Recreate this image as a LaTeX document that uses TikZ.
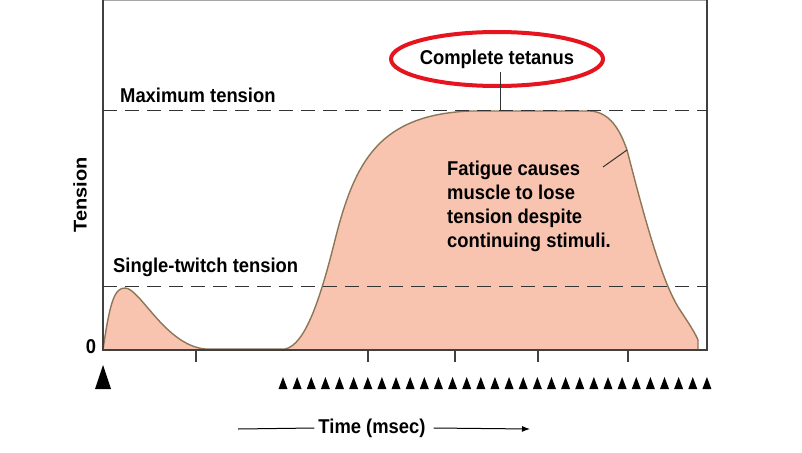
\documentclass[tikz,border=0pt]{standalone}
\usepackage{fontspec}
\setmainfont{Liberation Sans}
\usetikzlibrary{arrows.meta}
\definecolor{fillc}{RGB}{248,196,176}
\definecolor{edgec}{RGB}{140,118,88}
\definecolor{redc}{RGB}{230,20,30}
\tikzset{lbl/.style={font=\fontsize{20}{24}\selectfont\bfseries, inner sep=0pt, xscale=0.92},
 dashline/.style={dash pattern=on 14pt off 8pt, line width=1pt, black!80},
 tri/.style={fill=black, draw=none}}
\begin{document}
\begin{tikzpicture}[x=1pt,y=-1pt]
\useasboundingbox (0,0) rectangle (802,452);
\fill[white] (0,0) rectangle (802,452);
% curves
\draw[fill=fillc, draw=edgec, line width=1.4pt]
 (103,350) .. controls (110,300) and (115,288) .. (125,288)
 .. controls (140,288) and (165,345) .. (205,349) -- (285,349)
 .. controls (305,345) and (320,300) .. (335,240)
 .. controls (355,160) and (380,115) .. (470,111)
 -- (590,111) .. controls (610,112) and (620,130) .. (627,150)
 .. controls (640,200) and (660,280) .. (680,310)
 .. controls (690,325) and (695,333) .. (698,340) -- (698,350) -- cycle;
% frame
\draw[gray!70, line width=0.8pt] (103,0) -- (707,0);
\draw[black!75, line width=1.2pt] (103,0) -- (103,350) -- (707,350) -- (707,0);
\foreach \x in {196,368,455,538,628} \draw[black!75, line width=1.2pt] (\x,350) -- (\x,362);
\draw[dashline] (103,110) -- (707,110);
\draw[dashline] (103,286) -- (707,286);
% labels
\node[lbl, anchor=south west] (maxt) at (120,103) {Maximum tension};
\node[lbl, anchor=south west] (single) at (113,277) {Single-twitch tension};
\node[lbl] (tet) at (497,59) {Complete tetanus};
\draw[redc, line width=4pt] (tet) ellipse (106pt and 27pt);
\coordinate (tetb) at (500,110);
\draw[black!80, line width=1pt] (500,72) -- (tetb);
\node[lbl, align=left, anchor=north west] (fat) at (447,161)
 {Fatigue causes\\muscle to lose\\tension despite\\continuing stimuli.};
\coordinate (fp) at (627,150);
\draw[black!80, line width=1pt] (603,167) -- (fp);
\node[lbl, rotate=90] (ten) at (80,195) {Tension};
\node[lbl] (zero) at (91,347) {0};
\node[lbl] (time) at (372,428) {Time (msec)};
\draw[line width=1pt] (238,429) -- ([xshift=-4pt]time.west);
\draw[line width=1pt, -{Latex[length=8pt,width=6pt]}] ([xshift=8pt]time.east) -- (530,429);
% stimuli
\fill[tri] (95,389) -- (103,365) -- (111,389) -- cycle;
\foreach \i in {0,...,30} {
 \pgfmathsetmacro{\xx}{283+\i*14.13}
 \fill[tri] (\xx-4.5,389) -- (\xx,377) -- (\xx+4.5,389) -- cycle;
}
\end{tikzpicture}
\end{document}
